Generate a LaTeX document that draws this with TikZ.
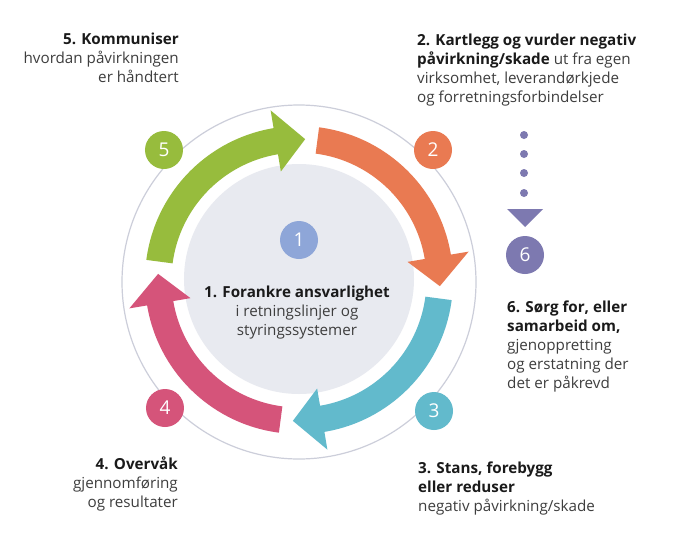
\documentclass[tikz,border=0pt]{standalone}
\usepackage{fontspec}
\setmainfont{Open Sans}
\usepackage{xcolor}
\usepackage{tikz}
\usetikzlibrary{positioning}
\definecolor{stepgreen}{RGB}{151,188,61}
\definecolor{steporange}{RGB}{233,122,82}
\definecolor{stepteal}{RGB}{98,186,204}
\definecolor{steppink}{RGB}{213,84,122}
\definecolor{stepblue}{RGB}{142,166,216}
\definecolor{steppurple}{RGB}{125,121,176}
\definecolor{discgray}{RGB}{232,234,240}
\definecolor{ringgray}{RGB}{204,206,218}
\definecolor{inkdark}{RGB}{26,26,26}
\definecolor{inkbody}{RGB}{62,62,62}
\tikzset{
  badge/.style={circle, minimum size=38pt, inner sep=0pt, text=white,
                font=\fontsize{19}{19}\selectfont},
  steptext/.style={inner sep=0pt, text=inkbody,
                   font=\fontsize{15.2}{19}\selectfont},
}
% curved step arrow: #1 colour, #2 start angle, #3 tip angle
\newcommand{\cyclearrow}[3]{%
  \pgfmathsetmacro{\headang}{#3+12}
  \fill[#1] (#2:154) arc[start angle=#2, end angle=\headang, radius=154]
        -- (\headang:172) -- (#3:141) -- (\headang:110) -- (\headang:127.5)
        arc[start angle=\headang, end angle=#2, radius=127.5] -- cycle;}
\newcommand{\hd}[1]{\textcolor{inkdark}{\textbf{#1}}}

\begin{document}
\begin{tikzpicture}[x=1pt, y=1pt]
  \useasboundingbox (-299,-267) rectangle (396,280);
  \fill[white] (-299,-267) rectangle (396,280);
  \draw[ringgray, line width=1.2pt] (0,-2) circle[radius=177];
  \fill[discgray] (0,1) circle[radius=115];
  \cyclearrow{stepgreen}{172.5}{87.5}
  \cyclearrow{steporange}{82.5}{-2.5}
  \cyclearrow{stepteal}{-7.5}{-92.5}
  \cyclearrow{steppink}{-97.5}{-182.5}
  \node[badge, fill=stepblue] (n1) at (0,40) {1};
  \node[badge, fill=steporange] (n2) at (134,130) {2};
  \node[badge, fill=stepteal] (n3) at (135,-131) {3};
  \node[badge, fill=steppink] (n4) at (-134,-128) {4};
  \node[badge, fill=stepgreen] (n5) at (-135,130) {5};
  \node[badge, fill=steppurple] (n6) at (226,25) {6};
  % dots and marker above step 6
  \foreach \dy in {145,126,107,87}
    \fill[steppurple] (225,\dy) circle[radius=4];
  \fill[steppurple] (208,71) -- (244,71) -- (226,53) -- cycle;
  % texts
  \node[steptext, anchor=north, align=center] (t1) at (-2,-5.5)
    {\hd{1. Forankre ansvarlighet}\\i retningslinjer og\\styringssystemer};
  \node[steptext, anchor=north west, align=left] (t2) at (118,246)
    {\hd{2. Kartlegg og vurder negativ}\\\hd{påvirkning/skade} ut fra egen\\virksomhet, leverandørkjede\\og forretningsforbindelser};
  \node[steptext, anchor=north west, align=left] (t3) at (119,-181.5)
    {\hd{3. Stans, forebygg}\\\hd{eller reduser}\\negativ påvirkning/skade};
  \node[steptext, anchor=north east, align=right] (t4) at (-121,-176.5)
    {\hd{4. Overvåk}\\gjennomføring\\og resultater};
  \node[steptext, anchor=north east, align=right] (t5) at (-120,247.5)
    {\hd{5. Kommuniser}\\hvordan påvirkningen\\er håndtert};
  \node[steptext, anchor=north west, align=left] (t6) at (208,-20.5)
    {\hd{6. Sørg for, eller}\\\hd{samarbeid om,}\\gjenoppretting\\og erstatning der\\det er påkrevd};
\end{tikzpicture}
\end{document}
